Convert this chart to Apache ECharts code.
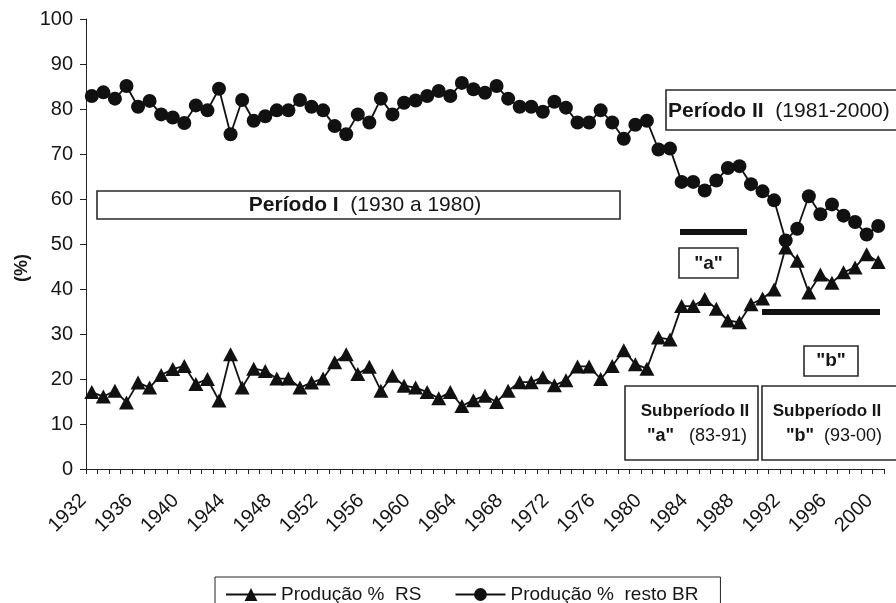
<!DOCTYPE html>
<html><head><meta charset="utf-8">
<script src="https://cdn.jsdelivr.net/npm/echarts@6/dist/echarts.min.js"></script>
<style>html,body{margin:0;padding:0;background:#fff}#c{width:896px;height:603px}</style>
</head><body><div id="c"></div>
<script>
const years = ['1932','1933','1934','1935','1936','1937','1938','1939','1940','1941',
  '1942','1943','1944','1945','1946','1947','1948','1949','1950','1951',
  '1952','1953','1954','1955','1956','1957','1958','1959','1960','1961',
  '1962','1963','1964','1965','1966','1967','1968','1969','1970','1971',
  '1972','1973','1974','1975','1976','1977','1978','1979','1980','1981',
  '1982','1983','1984','1985','1986','1987','1988','1989','1990','1991',
  '1992','1993','1994','1995','1996','1997','1998','1999','2000'];

const rsValues = [17.1,16.1,17.4,14.8,19.2,18.1,20.9,22.2,22.9,18.9,
  20.0,15.2,25.5,18.1,22.3,21.8,20.1,20.1,18.1,19.2,
  20.1,23.7,25.5,21.1,22.7,17.4,20.7,18.5,18.1,17.1,
  15.7,17.1,14.0,15.3,16.3,14.9,17.4,19.3,19.3,20.4,
  18.6,19.7,22.8,22.8,20.0,22.9,26.4,23.3,22.3,29.2,
  28.8,36.2,36.2,37.8,35.6,33.0,32.6,36.6,37.9,39.9,
  49.2,46.3,39.2,43.2,41.4,43.7,44.8,47.7,46.0];

const brValues = [82.9,83.7,82.3,85.1,80.5,81.8,78.8,78.1,76.9,80.8,
  79.7,84.5,74.4,82.0,77.4,78.4,79.7,79.7,82.0,80.5,
  79.7,76.2,74.4,78.8,77.0,82.3,78.8,81.4,81.9,82.9,
  84.0,82.9,85.8,84.4,83.6,85.1,82.3,80.5,80.5,79.4,
  81.6,80.3,77.0,77.0,79.7,77.0,73.4,76.5,77.4,71.0,
  71.2,63.8,63.8,61.9,64.1,66.9,67.3,63.3,61.7,59.7,
  50.8,53.4,60.6,56.6,58.8,56.3,54.9,52.1,54.0];

const seriesNames = ['Produção %  RS', 'Produção %  resto BR'];
const yTicks = { min: 0, max: 100, interval: 10 };

const FONT = '"Liberation Sans", Arial, Helvetica, sans-serif';
const INK = '#161616';
const BOX = '#2a2a2a';

function box(x, y, w, h) {
  return { type: 'rect', silent: true, shape: { x: x, y: y, width: w, height: h },
    style: { fill: '#fff', stroke: BOX, lineWidth: 1.6 }, z: 10 };
}
function bar(x, y, w, h) {
  return { type: 'rect', silent: true, shape: { x: x, y: y, width: w, height: h },
    style: { fill: '#111' }, z: 10 };
}
function richText(x, y, text, align, size) {
  return { type: 'text', silent: true, x: x, y: y, z: 11,
    style: { text: text, align: align, verticalAlign: 'middle', fill: INK,
      font: 'normal ' + size + 'px ' + FONT,
      rich: {
        b: { fontWeight: 'bold', fontSize: size, fontFamily: FONT, fill: INK },
        n: { fontWeight: 'normal', fontSize: size, fontFamily: FONT, fill: INK }
      } } };
}

const chart = echarts.init(document.getElementById('c'), null, { renderer: 'canvas' });
chart.setOption({
  animation: false,
  backgroundColor: '#fff',
  grid: { left: 86, right: 12, top: 19, bottom: 134 },
  legend: {
    data: seriesNames,
    left: 215, top: 577,
    padding: [8, 22, 12, 10],
    itemWidth: 50, itemHeight: 16, itemGap: 33,
    borderColor: '#222', borderWidth: 1,
    textStyle: { fontFamily: FONT, fontSize: 19, color: INK },
    selectedMode: false
  },
  xAxis: {
    type: 'category', data: years, boundaryGap: true,
    axisLine: { lineStyle: { color: '#222', width: 1 } },
    axisTick: { show: true, interval: 0, length: 5, lineStyle: { color: '#222', width: 1 } },
    axisLabel: { interval: 3, rotate: 45, margin: 20, padding: [0, 12, 0, 0],
      fontFamily: FONT, fontSize: 20, color: INK }
  },
  yAxis: {
    type: 'value', min: yTicks.min, max: yTicks.max, interval: yTicks.interval,
    splitLine: { show: false },
    axisLine: { show: true, lineStyle: { color: '#222', width: 1 } },
    axisTick: { show: true, length: 6, lineStyle: { color: '#222' } },
    axisLabel: { margin: 13, fontFamily: FONT, fontSize: 20, color: INK }
  },
  series: [
    { name: seriesNames[0], type: 'line', data: rsValues,
      symbol: 'triangle', symbolSize: [15, 14], showAllSymbol: true,
      lineStyle: { color: '#111', width: 1.8 }, itemStyle: { color: '#111' },
      emphasis: { disabled: true }, z: 3 },
    { name: seriesNames[1], type: 'line', data: brValues,
      symbol: 'circle', symbolSize: 14, showAllSymbol: true,
      lineStyle: { color: '#111', width: 1.8 }, itemStyle: { color: '#111' },
      emphasis: { disabled: true }, z: 3 }
  ],
  graphic: [
    { type: 'text', silent: true, x: 22, y: 268, rotation: Math.PI / 2,
      style: { text: '(%)', align: 'center', verticalAlign: 'middle', fill: INK,
        font: 'bold 18px ' + FONT } },
    box(97, 191, 523, 28),
    richText(365, 205, '{b|Período I}{n|  (1930 a 1980)}', 'center', 21),
    box(666, 90, 240, 40),
    richText(668, 111, '{b|Período II}{n|  (1981-2000)}', 'left', 21),
    bar(680, 229, 67, 6),
    box(679, 248, 59, 30),
    richText(708.5, 264, '{b|"a"}', 'center', 19),
    bar(762, 309, 118, 6),
    box(804, 346, 54, 30),
    richText(831, 361, '{b|"b"}', 'center', 19),
    box(625, 386, 133, 74),
    richText(695, 411, '{b|Subperíodo II}', 'center', 17),
    richText(697, 436, '{b|"a"}{n|   (83-91)}', 'center', 18),
    box(762, 386, 140, 74),
    richText(827, 411, '{b|Subperíodo II}', 'center', 17),
    richText(834, 436, '{b|"b"}{n|  (93-00)}', 'center', 18)
  ]
});
</script>
</body></html>
